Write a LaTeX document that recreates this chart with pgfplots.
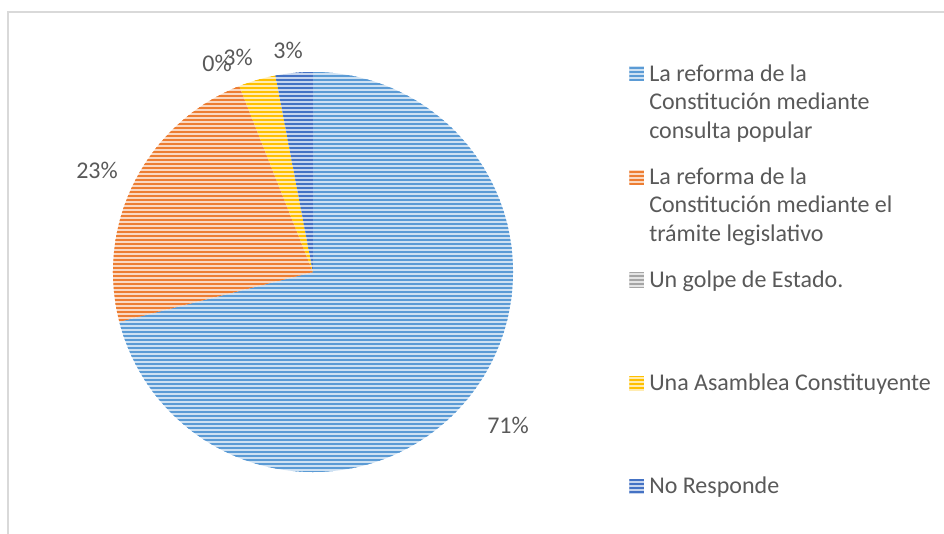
\documentclass[border=0pt]{standalone}
\usepackage{pgfplots}
\pgfplotsset{compat=1.18}
\usepackage{pgfplotstable}
\usepackage{fontspec}
\setmainfont{Carlito}
\usetikzlibrary{patterns}

\definecolor{cA}{HTML}{5B9BD5}
\definecolor{cB}{HTML}{ED7D31}
\definecolor{cC}{HTML}{A5A5A5}
\definecolor{cD}{HTML}{FFC000}
\definecolor{cE}{HTML}{4472C4}
\definecolor{txt}{HTML}{595959}
\definecolor{frame}{HTML}{D9D9D9}

% horizontal stripes, 3pt period
\pgfdeclarepatternformonly{hstripes}{\pgfpoint{-1pt}{-1pt}}{\pgfpoint{4pt}{4pt}}{\pgfpoint{3pt}{3pt}}{%
  \pgfpathrectangle{\pgfpoint{-1pt}{0pt}}{\pgfpoint{5pt}{1.5pt}}\pgfusepath{fill}}

\tikzset{striped/.style={draw=none, fill=#1!30!white, postaction={pattern=hstripes, pattern color=#1}}}

% shares in percent
\pgfplotstableread{
v
71
23
0
3
3
}\pietable

\pgfplotstablegetelem{0}{v}\of\pietable \let\vA\pgfplotsretval
\pgfplotstablegetelem{1}{v}\of\pietable \let\vB\pgfplotsretval
\pgfplotstablegetelem{2}{v}\of\pietable \let\vC\pgfplotsretval
\pgfplotstablegetelem{3}{v}\of\pietable \let\vD\pgfplotsretval
\pgfplotstablegetelem{4}{v}\of\pietable \let\vE\pgfplotsretval
\pgfmathsetmacro\aA{90}
\pgfmathsetmacro\aB{\aA-3.6*\vA}
\pgfmathsetmacro\aC{\aB-3.6*\vB}
\pgfmathsetmacro\aD{\aC-3.6*\vC}
\pgfmathsetmacro\aE{\aD-3.6*\vD}
\pgfmathsetmacro\aF{\aE-3.6*\vE}

\newcommand\pieslice[3]{%
  \path[striped=#1] (axis cs:0,0) -- ++(#2:150pt) arc[start angle=#2, end angle=#3, radius=150pt] -- cycle;}

\newcommand\legfont{\fontsize{18pt}{21.5pt}\selectfont}

\begin{document}
\begin{tikzpicture}
\draw[frame, line width=1pt] (6pt,-20pt) -- (6pt,390.75pt) -- (720pt,390.75pt);
\begin{axis}[
  at={(234.75pt,195.75pt)}, anchor=center,
  width=300pt, height=300pt, scale only axis,
  xmin=-1, xmax=1, ymin=-1, ymax=1,
  hide axis, clip=false,
  legend cell align=left,
  legend image code/.code={\path[#1] (0pt,0pt) rectangle (11pt,11pt);},
  legend style={at={(1.29,1.107)}, anchor=north west, draw=none, fill=none,
    inner sep=0pt, row sep=0pt, column sep=4pt,
    nodes={inner sep=0pt, text=txt, font=\legfont, text height=38.7pt, text depth=38.7pt}},
]
\pieslice{cA}{\aA}{\aB}
\pieslice{cB}{\aB}{\aC}
\pieslice{cD}{\aD}{\aE}
\pieslice{cE}{\aE}{\aF}

\addlegendimage{striped=cA}
\addlegendentry{\parbox[t]{230pt}{La reforma de la\\Constitución mediante\\consulta popular}}
\addlegendimage{striped=cB}
\addlegendentry{\parbox[t]{230pt}{La reforma de la\\Constitución mediante el\\trámite legislativo}}
\addlegendimage{striped=cC}
\addlegendentry{Un golpe de Estado.}
\addlegendimage{striped=cD}
\addlegendentry{Una Asamblea Constituyente}
\addlegendimage{striped=cE}
\addlegendentry{No Responde}

\addplot[draw=none, mark=none, forget plot, nodes near coords, point meta=explicit symbolic,
  every node near coord/.append style={anchor=center, text=txt, font=\legfont, inner sep=0pt}]
  table[meta=lab] {
x y lab
0.975 -0.765 71\%
-1.08 0.51 23\%
-0.48 1.045 0\%
-0.375 1.075 3\%
-0.125 1.11 3\%
};
\end{axis}
\pgfresetboundingbox
\path[use as bounding box] (0pt,0pt) rectangle (708pt,399.75pt);
\end{tikzpicture}
\end{document}
